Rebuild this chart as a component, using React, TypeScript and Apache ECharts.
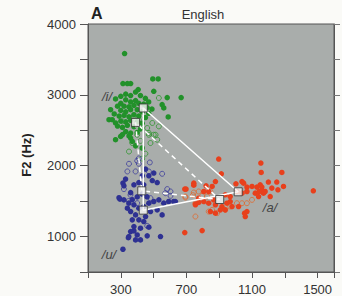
import React, { useEffect, useRef } from "react";
import * as echarts from "echarts";

// F1 (Hz) = x, F2 (Hz) = y
const iFilled: number[][] = [
  [323, 3583], [495, 3225], [528, 3225], [313, 3159], [340, 3159], [360, 3159], [406, 3074], [501, 3050],
  [268, 2942], [668, 2961], [583, 2961], [552, 2862], [562, 2815], [589, 2688], [238, 2791], [228, 2650],
  [248, 2650], [268, 2603], [268, 2367], [299, 2414], [360, 2391], [370, 2343],
  [300, 2980], [330, 3010], [360, 2990], [390, 3040], [420, 2990], [450, 2950], [470, 2900], [330, 2930],
  [360, 2900], [390, 2920], [410, 2880], [300, 2880], [280, 2840], [320, 2840], [350, 2830], [380, 2850],
  [440, 2870], [460, 2820], [490, 2800], [300, 2780], [330, 2760], [360, 2790], [400, 2790], [430, 2760],
  [470, 2740], [260, 2730], [290, 2700], [320, 2710], [350, 2690], [380, 2720], [410, 2700], [450, 2680],
  [300, 2630], [330, 2620], [360, 2640], [400, 2620], [430, 2600], [280, 2560], [310, 2540], [340, 2570],
  [380, 2550], [420, 2520], [330, 2480], [360, 2460], [400, 2470], [350, 2420], [310, 2440], [390, 2280],
  [430, 2250],
];
const iOpen: number[][] = [
  [532, 2956], [461, 2532], [471, 2462], [512, 2437], [522, 2367], [309, 2626], [400, 2437], [492, 2603],
  [532, 2555], [471, 2437], [501, 2437], [481, 2320], [370, 2320], [420, 2350], [380, 2700], [410, 2650],
  [350, 2200], [450, 2170], [430, 2100],
];
const uFilled: number[][] = [
  [313, 1755], [329, 1811], [319, 1716], [295, 1528], [289, 1548], [380, 1730], [410, 1763], [440, 1730],
  [492, 1791], [522, 1763], [471, 1858], [431, 1858], [501, 1896], [451, 1952],
  [319, 1518], [349, 1472], [380, 1448], [410, 1401], [440, 1424], [471, 1472], [501, 1495], [532, 1518],
  [562, 1472], [592, 1495], [623, 1495], [522, 1377], [552, 1306], [481, 1353], [451, 1282], [633, 1494],
  [360, 1353], [390, 1306], [370, 1236], [410, 1236], [440, 1212], [380, 1141], [420, 1118], [471, 1132],
  [360, 1070], [400, 1023], [349, 1000], [390, 953], [420, 953], [542, 1000], [313, 821], [346, 985],
  [380, 1080], [461, 1010], [400, 1560], [430, 1600], [360, 1620], [460, 1560], [340, 1400], [370, 1520],
];
const uOpen: number[][] = [
  [350, 2027], [410, 2027], [477, 2046], [390, 1919], [471, 1919], [552, 1886], [340, 1919], [400, 2070],
  [410, 2103], [603, 1636], [572, 1613], [481, 1542], [359, 1589], [461, 1151], [400, 1472], [319, 1670],
  [349, 1504], [583, 1670], [603, 1575],
];
const aFilled: number[][] = [
  [897, 2094], [913, 1886], [745, 1754], [698, 1670], [820, 1716], [857, 1707], [877, 1777], [836, 1636],
  [806, 1636], [1002, 1745], [1039, 1777], [1069, 1698], [1100, 1707], [1130, 1698], [1150, 1730], [1160, 1650],
  [937, 1589], [967, 1565], [967, 1494], [947, 1471], [917, 1424], [877, 1448], [836, 1471], [806, 1494],
  [775, 1542], [866, 1518], [755, 1448], [846, 1353], [877, 1330], [907, 1377], [937, 1377], [978, 1424],
  [1018, 1424], [1055, 1330], [1059, 1283], [1069, 1353], [1049, 1754], [1069, 1636], [1039, 1613],
  [1008, 1636], [1120, 1613], [1140, 1565], [1170, 1613], [690, 1056], [796, 1084], [1154, 2037],
  [1156, 1905], [1282, 1905], [1200, 1770], [1251, 1770], [1160, 1698], [1144, 1636], [1180, 1636],
  [1221, 1684], [1258, 1660], [1292, 1707], [1211, 1565], [1474, 1646], [690, 1670], [745, 1726],
  [755, 1458], [775, 1481],
];
const aOpen: number[][] = [
  [694, 1565], [745, 1622], [775, 1636], [796, 1575], [755, 1472], [836, 1353], [857, 1377], [887, 1330],
  [937, 1377], [967, 1424], [1008, 1471], [1039, 1471], [1069, 1471], [1100, 1518], [755, 1283],
  [826, 1565], [846, 1636], [694, 1551], [740, 1585],
];
// vowel means: [i, u, a] for the two groups
const meansSolid: number[][] = [[437, 2815], [437, 1373], [1016, 1632]];
const meansDashed: number[][] = [[390, 2611], [428, 1646], [903, 1523]];

const xTickLabels = [300, 700, 1100, 1500];
const yTickLabels = [1000, 2000, 3000, 4000];

export default function App() {
  const ref = useRef<HTMLDivElement>(null);
  useEffect(() => {
    if (!ref.current) return;
    const chart = echarts.init(ref.current, undefined, { renderer: "svg" });
    const filled = (data: number[][], color: string) => ({
      type: "scatter",
      xAxisIndex: 1,
      data,
      symbolSize: 5.5,
      itemStyle: { color, opacity: 1 },
      silent: true,
      z: 2,
    });
    const open = (data: number[][], color: string) => ({
      type: "scatter",
      xAxisIndex: 1,
      data,
      symbolSize: 5,
      itemStyle: { color: "rgba(0,0,0,0)", borderColor: color, borderWidth: 1 },
      silent: true,
      z: 2,
    });
    const tri = (m: number[][], type: string) => ({
      type: "line",
      xAxisIndex: 1,
      data: [m[0], m[1], m[2], m[0]],
      symbol: "none",
      lineStyle: { color: "#ffffff", width: 1.5, type: type === "dashed" ? [5, 4] : "solid" },
      silent: true,
      z: 3,
    });
    const squares = (m: number[][]) => ({
      type: "scatter",
      xAxisIndex: 1,
      data: m,
      symbol: "rect",
      symbolSize: 8,
      itemStyle: { color: "#f4f4f2", borderColor: "#333", borderWidth: 1 },
      silent: true,
      z: 4,
    });
    chart.setOption({
      animation: false,
      backgroundColor: "#fafaf7",
      textStyle: { fontFamily: "Liberation Sans" },
      grid: {
        left: 88, right: 8, top: 24, bottom: 24,
        show: true, backgroundColor: "#a9adab", borderColor: "#555", borderWidth: 1,
      },
      xAxis: [
        {
          type: "value", min: 0, max: 1500, interval: 200, position: "bottom",
          axisLine: { show: true, lineStyle: { color: "#555" } },
          axisTick: { show: true, length: 6, lineStyle: { color: "#555" } },
          splitLine: { show: false },
          axisLabel: {
            color: "#333", fontSize: 13, margin: 11,
            formatter: (v: number) => (xTickLabels.includes(v + 100) ? String(v + 100) : ""),
          },
        },
        { type: "value", min: 100, max: 1600, show: false },
      ],
      yAxis: [
        {
          type: "value", min: 500, max: 4000, interval: 500, position: "left",
          axisLine: { show: true, lineStyle: { color: "#555" } },
          axisTick: { show: true, length: 8, lineStyle: { color: "#555" } },
          splitLine: { show: false },
          axisLabel: {
            color: "#333", fontSize: 13, margin: 12,
            formatter: (v: number) => (yTickLabels.includes(v) ? String(v) : ""),
          },
        },
        {
          type: "value", min: 500, max: 4000, interval: 500, position: "right",
          axisLine: { show: true, lineStyle: { color: "#555" } },
          axisTick: { show: true, length: 6, lineStyle: { color: "#777" } },
          splitLine: { show: false },
          axisLabel: { show: false },
        },
      ],
      series: [
        open(iOpen, "#2f962f"),
        filled(iFilled, "#22912a"),
        open(uOpen, "#3c3c9c"),
        filled(uFilled, "#2e3192"),
        open(aOpen, "#e06a30"),
        filled(aFilled, "#e8401c"),
        tri(meansSolid, "solid"),
        tri(meansDashed, "dashed"),
        squares(meansSolid),
        squares(meansDashed),
      ],
      graphic: [
        { type: "text", left: 91, top: 5, style: { text: "A", font: "bold 16px Liberation Sans", fill: "#222" } },
        { type: "text", x: 203, y: 14, style: { text: "English", font: "13px Liberation Sans", fill: "#333", align: "center", verticalAlign: "middle" } },
        { type: "text", x: 26, y: 155, rotation: Math.PI / 2, style: { text: "F2 (Hz)", font: "bold 13px Liberation Sans", fill: "#222", align: "center", verticalAlign: "middle" } },
        { type: "text", x: 107, y: 96, z: 10, style: { text: "/i/", font: "italic 13px Liberation Sans", fill: "#444", align: "center", verticalAlign: "middle" } },
        { type: "text", x: 109, y: 254, z: 10, style: { text: "/u/", font: "italic 13px Liberation Sans", fill: "#444", align: "center", verticalAlign: "middle" } },
        { type: "text", x: 270, y: 207, z: 10, style: { text: "/a/", font: "italic 13px Liberation Sans", fill: "#444", align: "center", verticalAlign: "middle" } },
      ],
    });
    return () => chart.dispose();
  }, []);
  return <div ref={ref} style={{ position: "fixed", left: 0, top: 0, width: 342, height: 296 }} />;
}
